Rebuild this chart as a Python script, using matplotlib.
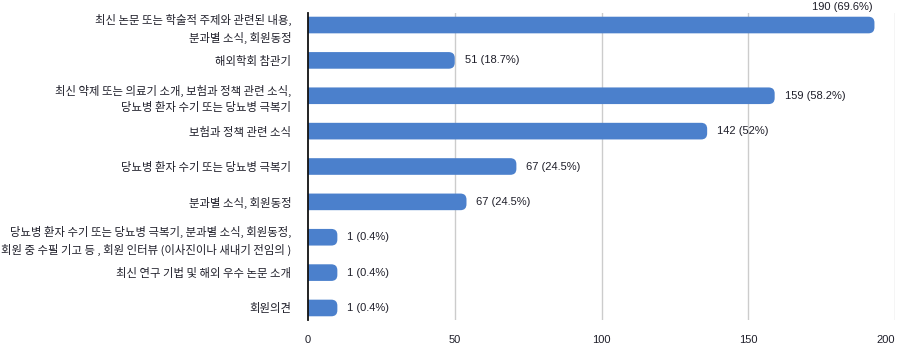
import matplotlib
matplotlib.use('Agg')
import matplotlib.pyplot as plt
from matplotlib.patches import FancyBboxPatch

plt.rcParams['font.family'] = ['Noto Sans CJK KR', 'DejaVu Sans']

categories = [
    '최신 논문 또는 학술적 주제와 관련된 내용,\n분과별 소식, 회원동정',
    '해외학회 참관기',
    '최신 약제 또는 의료기 소개, 보험과 정책 관련 소식,\n당뇨병 환자 수기 또는 당뇨병 극복기',
    '보험과 정책 관련 소식',
    '당뇨병 환자 수기 또는 당뇨병 극복기',
    '분과별 소식, 회원동정',
    '당뇨병 환자 수기 또는 당뇨병 극복기, 분과별 소식, 회원동정,\n회원 중 수필 기고 등 , 회원 인터뷰 (이사진이나 새내기 전임의 )',
    '최신 연구 기법 및 해외 우수 논문 소개',
    '회원의견',
]
# bar lengths as drawn in the picture
bar_lengths = [193, 50, 159, 136, 71, 54, 10, 10, 10]
value_labels = ['190 (69.6%)', '51 (18.7%)', '159 (58.2%)', '142 (52%)', '67 (24.5%)',
                '67 (24.5%)', '1 (0.4%)', '1 (0.4%)', '1 (0.4%)']
xticks = [0, 50, 100, 150, 200]

bar_color = '#4b80cc'
text_color = '#1f1f2a'

fig = plt.figure(figsize=(8.99, 3.49), dpi=100)
ax = fig.add_axes([308 / 899, 1 - 320 / 349, 587 / 899, 307 / 349])
ax.set_xlim(0, 200)
ax.set_ylim(8.34, -0.34)

px_x = 587 / 200          # pixels per x unit
px_y = 307 / 8.68         # pixels per y unit
aspect = px_x / px_y
radius = 6 / px_x
height = 0.47

for i, (w, lab) in enumerate(zip(bar_lengths, value_labels)):
    patch = FancyBboxPatch((-5, i - height / 2), w + 5, height,
                           boxstyle=f'round,pad=0,rounding_size={radius}',
                           mutation_aspect=aspect, facecolor=bar_color,
                           edgecolor='none', zorder=2)
    ax.add_patch(patch)
    if w > 180:
        ax.text(w - 0.5, i - height / 2 - 0.12, lab, ha='right', va='bottom',
                fontsize=8, color=text_color, family=['Liberation Sans'])
    else:
        ax.text(w + 3.4, i, lab, ha='left', va='center',
                fontsize=8, color=text_color, family=['Liberation Sans'])

ax.set_yticks(range(len(categories)))
ax.set_yticklabels(categories, fontsize=8.2, color=text_color, linespacing=1.55,
                   fontweight='medium')
ax.set_xticks(xticks)
ax.set_xticklabels([str(t) for t in xticks], fontsize=8, color=text_color,
                   family=['Liberation Sans'])
ax.get_xticklabels()[-1].set_ha('right')
ax.tick_params(axis='y', length=0, pad=12)
ax.tick_params(axis='x', length=0, pad=11)

for t in xticks[1:]:
    ax.axvline(t, color='#cccccc', linewidth=1, zorder=1)
for s in ['top', 'right', 'bottom']:
    ax.spines[s].set_visible(False)
ax.spines['left'].set_color('#111111')
ax.spines['left'].set_linewidth(1.3)
ax.spines['left'].set_zorder(3)

fig.savefig('out.png', dpi=100)
